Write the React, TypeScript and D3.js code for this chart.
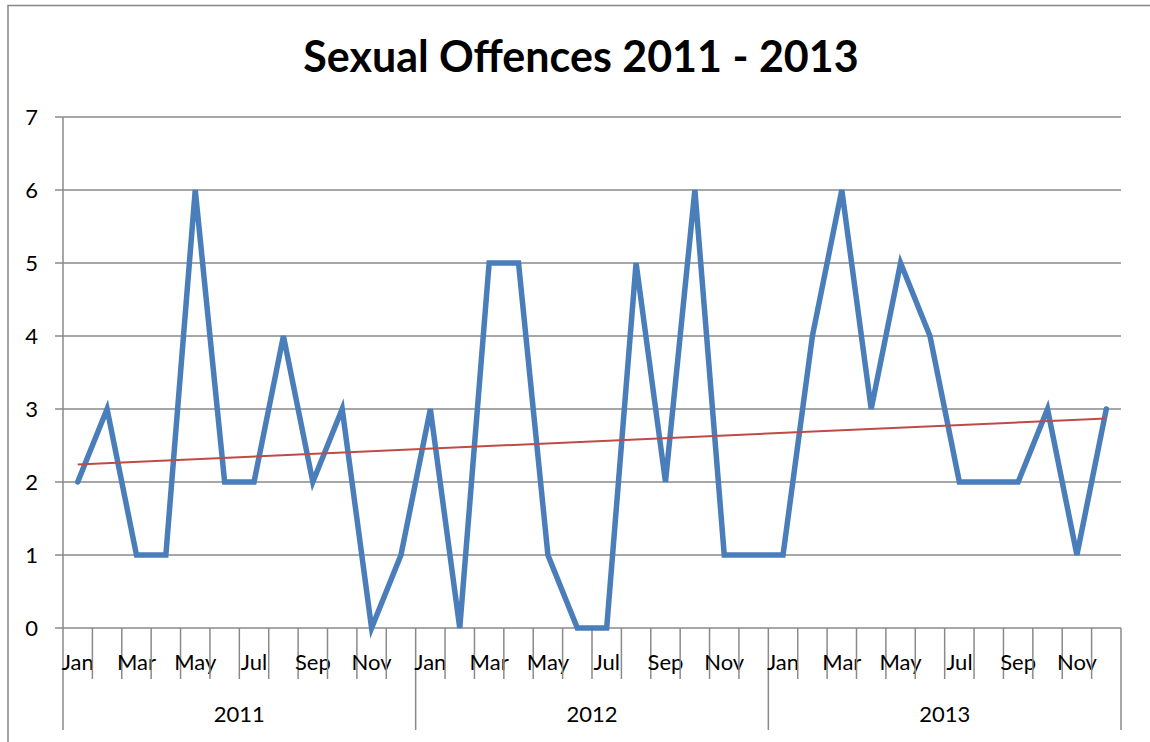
import * as d3 from "d3";
import { useEffect, useRef } from "react";

const years = ["2011", "2012", "2013"];
const months = ["Jan", "Feb", "Mar", "Apr", "May", "Jun", "Jul", "Aug", "Sep", "Oct", "Nov", "Dec"];
const offences2011 = [2, 3, 1, 1, 6, 2, 2, 4, 2, 3, 0, 1];
const offences2012 = [3, 0, 5, 5, 1, 0, 0, 5, 2, 6, 1, 1];
const offences2013 = [1, 4, 6, 3, 5, 4, 2, 2, 2, 3, 1, 3];
const yTicks = [0, 1, 2, 3, 4, 5, 6, 7];

const WIDTH = 1150;
const HEIGHT = 742;
const FONT = "Lato, 'Open Sans', sans-serif";

export default function App() {
  const svgRef = useRef<SVGSVGElement>(null);

  useEffect(() => {
    if (!svgRef.current) return;
    const svg = d3.select(svgRef.current);
    svg.selectAll("*").remove();

    const values = [...offences2011, ...offences2012, ...offences2013];
    const keys = years.flatMap((y) => months.map((m) => `${m} ${y}`));

    const left = 63;
    const right = 1121;
    const top = 117;
    const bottom = 628;

    const x = d3.scaleBand<string>().domain(keys).range([left, right]);
    const y = d3.scaleLinear().domain([0, 7]).range([bottom, top]);
    const cx = (k: string) => (x(k) ?? 0) + x.bandwidth() / 2;

    // chart frame
    svg
      .append("rect")
      .attr("x", 8)
      .attr("y", 5.5)
      .attr("width", WIDTH + 20)
      .attr("height", HEIGHT + 20)
      .style("fill", "white")
      .style("stroke", "#868686")
      .style("stroke-width", 1.5);

    svg
      .append("text")
      .attr("x", 581)
      .attr("y", 72)
      .attr("text-anchor", "middle")
      .style("font-family", FONT)
      .style("font-size", "43px")
      .style("font-weight", "bold")
      .style("fill", "#000")
      .text("Sexual Offences 2011 - 2013");

    const grid = "#8a8a8a";

    // gridlines + y ticks
    for (const t of yTicks) {
      svg
        .append("line")
        .attr("x1", left - 8)
        .attr("x2", right)
        .attr("y1", y(t))
        .attr("y2", y(t))
        .style("stroke", grid)
        .style("stroke-width", 1.5);
      svg
        .append("text")
        .attr("x", 38)
        .attr("y", y(t) + 8)
        .attr("text-anchor", "end")
        .style("font-family", FONT)
        .style("font-size", "22px")
        .style("fill", "#000")
        .text(t);
    }

    // y axis
    svg
      .append("line")
      .attr("x1", left)
      .attr("x2", left)
      .attr("y1", top)
      .attr("y2", 730)
      .style("stroke", grid)
      .style("stroke-width", 1.5);

    // category ticks
    keys.forEach((k, i) => {
      const xb = x(k) ?? 0;
      const isYear = i % 12 === 0;
      if (i > 0) {
        svg
          .append("line")
          .attr("x1", xb)
          .attr("x2", xb)
          .attr("y1", bottom)
          .attr("y2", isYear ? 730 : 679)
          .style("stroke", grid)
          .style("stroke-width", 1.5);
      }
      if (i % 2 === 0) {
        svg
          .append("text")
          .attr("x", cx(k))
          .attr("y", 670)
          .attr("text-anchor", "middle")
          .style("font-family", FONT)
          .style("font-size", "22px")
          .style("fill", "#000")
          .text(months[i % 12]);
      }
    });
    svg
      .append("line")
      .attr("x1", right)
      .attr("x2", right)
      .attr("y1", bottom)
      .attr("y2", 730)
      .style("stroke", grid)
      .style("stroke-width", 1.5);

    // year labels
    years.forEach((yr, i) => {
      const x0 = x(keys[i * 12]) ?? 0;
      const x1 = (x(keys[i * 12 + 11]) ?? 0) + x.bandwidth();
      svg
        .append("text")
        .attr("x", (x0 + x1) / 2)
        .attr("y", 722)
        .attr("text-anchor", "middle")
        .style("font-family", FONT)
        .style("font-size", "22px")
        .style("fill", "#000")
        .text(yr);
    });

    // data line
    const line = d3
      .line<number>()
      .x((_, i) => cx(keys[i]))
      .y((d) => y(d));

    svg
      .append("path")
      .datum(values)
      .attr("d", line)
      .style("fill", "none")
      .style("stroke", "#4a7ebb")
      .style("stroke-width", 5.5)
      .style("stroke-linejoin", "miter")
      .style("stroke-linecap", "round");

    // linear trendline (least squares)
    const n = values.length;
    const xs = d3.range(1, n + 1);
    const mx = d3.mean(xs) as number;
    const my = d3.mean(values) as number;
    const slope =
      d3.sum(xs, (xi, i) => (xi - mx) * (values[i] - my)) / d3.sum(xs, (xi) => (xi - mx) ** 2);
    const icpt = my - slope * mx;

    svg
      .append("line")
      .attr("x1", cx(keys[0]))
      .attr("x2", cx(keys[n - 1]))
      .attr("y1", y(icpt + slope * 1))
      .attr("y2", y(icpt + slope * n))
      .style("stroke", "#be4b48")
      .style("stroke-width", 2);
  }, []);

  return (
    <svg
      ref={svgRef}
      width={WIDTH}
      height={HEIGHT}
      style={{ position: "absolute", left: 0, top: 0, display: "block" }}
    />
  );
}
